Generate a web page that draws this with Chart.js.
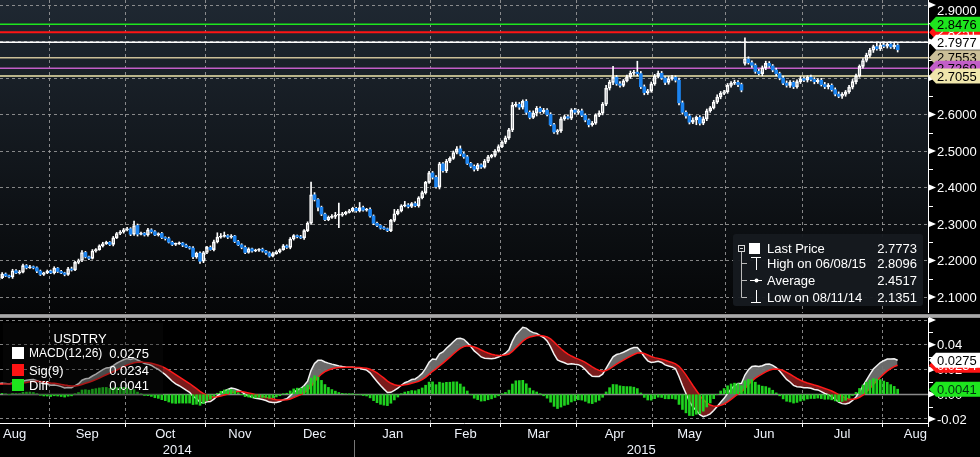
<!DOCTYPE html>
<html>
<head>
<meta charset="utf-8">
<script src="https://cdn.jsdelivr.net/npm/chart.js@4.4.1/dist/chart.umd.min.js"></script>
<style>
  html, body { margin: 0; padding: 0; background: #000; }
  #wrap { position: relative; width: 980px; height: 457px; overflow: hidden; background: #000; }
  #price { position: absolute; left: 0; top: 0; }
  #macd { position: absolute; left: 0; top: 313px; }
</style>
</head>
<body>
<div id="wrap">
  <canvas id="price" width="980" height="313"></canvas>
  <canvas id="macd" width="980" height="144"></canvas>
</div>
<script>
// USDTRY daily closes, one array per month (Aug 11 2014 .. Aug 7 2015)
var aug14 = [2.153, 2.163, 2.158, 2.155, 2.172, 2.166, 2.168, 2.186, 2.180, 2.183, 2.180, 2.171, 2.162, 2.166, 2.171];
var sep14 = [2.166, 2.179, 2.170, 2.166, 2.162, 2.177, 2.174, 2.195, 2.200, 2.222, 2.210, 2.206, 2.226, 2.230, 2.240, 2.246, 2.250, 2.244, 2.262, 2.274, 2.278, 2.284];
var oct14 = [2.287, 2.272, 2.296, 2.272, 2.275, 2.270, 2.284, 2.279, 2.270, 2.274, 2.263, 2.260, 2.250, 2.244, 2.246, 2.248, 2.242, 2.237, 2.234, 2.210, 2.220, 2.198, 2.222];
var nov14 = [2.236, 2.230, 2.251, 2.264, 2.266, 2.268, 2.264, 2.267, 2.252, 2.243, 2.236, 2.222, 2.232, 2.226, 2.228, 2.231, 2.226, 2.221, 2.212, 2.219];
var dec14 = [2.224, 2.230, 2.240, 2.236, 2.259, 2.268, 2.265, 2.262, 2.282, 2.302, 2.380, 2.367, 2.346, 2.327, 2.312, 2.318, 2.321, 2.324, 2.324, 2.328, 2.332, 2.336, 2.343];
var jan15 = [2.336, 2.345, 2.338, 2.340, 2.322, 2.302, 2.296, 2.289, 2.287, 2.282, 2.310, 2.328, 2.336, 2.350, 2.352, 2.348, 2.356, 2.350, 2.372, 2.386, 2.414, 2.440];
var feb15 = [2.428, 2.402, 2.465, 2.446, 2.472, 2.480, 2.496, 2.506, 2.492, 2.484, 2.466, 2.458, 2.450, 2.462, 2.456, 2.472, 2.484, 2.488, 2.500, 2.512];
var mar15 = [2.524, 2.536, 2.558, 2.625, 2.628, 2.620, 2.636, 2.606, 2.592, 2.604, 2.617, 2.608, 2.612, 2.600, 2.572, 2.552, 2.556, 2.588, 2.594, 2.590, 2.612, 2.606];
var apr15 = [2.610, 2.598, 2.585, 2.572, 2.576, 2.598, 2.604, 2.628, 2.672, 2.688, 2.702, 2.684, 2.680, 2.692, 2.703, 2.713, 2.716, 2.712, 2.676, 2.660, 2.665, 2.684];
var may15 = [2.705, 2.713, 2.700, 2.688, 2.698, 2.702, 2.694, 2.632, 2.606, 2.596, 2.579, 2.585, 2.592, 2.576, 2.588, 2.610, 2.618, 2.634, 2.648, 2.658, 2.662];
var jun15 = [2.680, 2.686, 2.688, 2.682, 2.667, 2.752, 2.742, 2.735, 2.718, 2.712, 2.728, 2.740, 2.733, 2.722, 2.712, 2.700, 2.686, 2.680, 2.688, 2.676, 2.690, 2.698];
var jul15 = [2.694, 2.702, 2.696, 2.690, 2.694, 2.682, 2.676, 2.680, 2.668, 2.656, 2.650, 2.655, 2.662, 2.675, 2.690, 2.706, 2.732, 2.748, 2.762, 2.776, 2.786, 2.780, 2.790];
var aug15 = [2.787, 2.793, 2.785, 2.790, 2.7773];

var firstOpen = 2.147;
var gapOpens = { 215: 2.740 };   // Jun 8 2015, gap after the election

// wick lengths above / below the body, in 0.001
var wickUp = [
  3,4,3,2,4,3,5,4,3,4,2,3,3,2,3,
  3,4,2,3,2,4,5,3,4,5,3,2,4,3,3,4,3,2,4,3,4,4,
  4,3,12,4,3,2,4,3,3,2,3,2,4,3,2,3,2,3,2,4,3,4,3,
  3,4,5,12,8,10,3,4,2,3,3,4,3,2,3,2,3,2,3,4,
  3,2,4,3,4,3,2,4,3,4,35,6,3,3,3,4,5,8,33,4,3,4,3,
  3,14,4,3,4,3,3,2,4,2,3,12,4,3,10,4,3,5,3,4,3,4,
  4,5,4,3,5,4,4,6,8,5,4,3,4,4,3,5,4,3,4,5,
  4,5,4,8,6,5,4,5,4,6,5,4,5,4,5,4,3,5,4,5,4,5,
  4,5,4,3,5,4,6,5,8,6,30,5,6,4,5,6,5,30,6,5,4,5,
  5,6,5,4,6,5,4,6,5,4,5,6,4,5,6,5,4,5,6,5,4,
  5,4,6,5,4,58,6,5,4,6,5,6,5,4,5,4,5,6,5,4,5,6,
  5,4,6,5,4,5,6,5,4,5,6,5,4,5,6,5,4,5,6,5,4,10,5,
  5,4,6,5,4
];
var wickDn = [
  11,3,2,3,4,2,3,2,3,2,3,4,3,3,2,
  2,3,3,2,4,3,3,2,4,3,3,4,2,3,2,3,2,3,4,2,3,3,
  3,4,3,5,2,3,3,4,2,3,3,4,2,3,3,2,4,2,3,5,4,6,4,
  3,2,4,3,3,2,4,3,3,2,4,3,2,3,2,3,3,4,3,2,
  2,3,2,3,4,3,3,2,4,3,3,4,10,4,3,3,3,6,34,3,3,2,3,
  4,3,3,3,3,4,3,3,2,3,3,4,3,3,3,4,3,3,4,3,4,3,
  5,4,6,4,5,4,3,4,5,4,3,4,5,4,4,3,4,3,4,3,
  3,4,4,5,4,6,5,6,4,3,8,4,5,4,3,4,6,5,4,3,4,5,
  5,4,5,6,4,3,4,5,4,5,6,4,5,4,3,4,5,6,5,6,5,4,
  4,5,4,6,5,4,5,6,5,6,5,4,13,5,4,5,4,3,4,5,4,
  4,5,4,6,5,5,4,6,5,4,6,5,4,5,6,5,4,5,6,5,4,5,
  4,5,4,6,5,4,5,6,4,5,4,6,5,4,5,6,4,5,4,5,6,4,5,
  4,5,4,5,6
];

// first trading-day index of each month (Aug 2014 .. Sep 2015)
var monthStarts = [-6, 15, 37, 60, 80, 103, 125, 145, 167, 189, 210, 232, 255, 276];
var monthNames = ['Aug', 'Sep', 'Oct', 'Nov', 'Dec', 'Jan', 'Feb', 'Mar', 'Apr', 'May', 'Jun', 'Jul', 'Aug'];
var yearLabels = ['2014', '2015'];
var yearStart = 103;

var levelValues = [2.8476, 2.8251, 2.7977, 2.7553, 2.7269, 2.7055];
var levelColors = ['#1ee61e', '#ff1414', '#ffffff', '#cbbf98', '#c25ec8', '#efe6ac'];
var levelTextColors = ['#000', '#fff', '#000', '#000', '#000', '#000'];
var levelTagOrder = [1, 0, 2, 3, 4, 5];

var statLabels = ['Last Price', 'High on 06/08/15', 'Average', 'Low on 08/11/14'];
var statValues = ['2.7773', '2.8096', '2.4517', '2.1351'];

var macdLabels = ['MACD(12,26)', 'Sig(9)', 'Diff'];
var macdLast = [0.0275, 0.0234, 0.0041];
var emaSeed = { fast: 2.150, slow: 2.141, signal: 0.008 };

var FONT = '13px "Liberation Sans", Arial, sans-serif';
var SMALL = '12px "Liberation Sans", Arial, sans-serif';
var GRID = 'rgba(165,165,165,0.8)';
var UP = '#ffffff';
var DOWN = '#1c84f0';
var X_MIN = 0.38, X_MAX = 267.74;

var closes = [].concat(aug14, sep14, oct14, nov14, dec14, jan15, feb15, mar15, apr15, may15, jun15, jul15, aug15);
var opens = closes.map(function (c, i) {
    if (gapOpens[i] !== undefined) return gapOpens[i];
    return i === 0 ? firstOpen : closes[i - 1];
});
var isUp = closes.map(function (c, i) { return c >= opens[i]; });

var bodies = closes.map(function (c, i) { return { x: i, y: [opens[i], c] }; });
var upperWicks = closes.map(function (c, i) {
    var top = Math.max(opens[i], c);
    return { x: i, y: [top, top + wickUp[i] / 1000] };
});
var lowerWicks = closes.map(function (c, i) {
    var bot = Math.min(opens[i], c);
    return { x: i, y: [bot - wickDn[i] / 1000, bot] };
});

function ema(series, n, seed) {
    var k = 2 / (n + 1), prev = seed;
    return series.map(function (v) { prev = prev + k * (v - prev); return prev; });
}
var ema12 = ema(closes, 12, emaSeed.fast);
var ema26 = ema(closes, 26, emaSeed.slow);
var macd = ema12.map(function (v, i) { return v - ema26[i]; });
var signal = ema(macd, 9, emaSeed.signal);
var diff = macd.map(function (v, i) { return v - signal[i]; });

var boundaryTicks = function (scale) {
    scale.ticks = monthStarts.slice(1, -1).map(function (s) { return { value: s - 0.5 }; });
};

function drawTag(ctx, x, y, text, fill, color) {
    ctx.beginPath();
    ctx.moveTo(x, y);
    ctx.lineTo(x + 7, y - 7.5);
    ctx.lineTo(980, y - 7.5);
    ctx.lineTo(980, y + 7.5);
    ctx.lineTo(x + 7, y + 7.5);
    ctx.closePath();
    ctx.fillStyle = fill;
    ctx.fill();
    ctx.fillStyle = color;
    ctx.textAlign = 'left';
    ctx.textBaseline = 'middle';
    ctx.fillText(text, x + 8, y + 1);
}

function drawAxisTicks(ctx, x, majors, minors) {
    ctx.fillStyle = '#fff';
    ctx.strokeStyle = '#fff';
    ctx.lineWidth = 1;
    majors.forEach(function (py) {
        ctx.beginPath();
        ctx.moveTo(x + 1, py - 3);
        ctx.lineTo(x + 8, py);
        ctx.lineTo(x + 1, py + 3);
        ctx.closePath();
        ctx.fill();
    });
    minors.forEach(function (py) {
        ctx.beginPath();
        ctx.moveTo(x + 1, Math.round(py) + 0.5);
        ctx.lineTo(x + 5, Math.round(py) + 0.5);
        ctx.stroke();
    });
}

var pricePanel = {
    id: 'pricePanel',
    beforeDraw: function (chart) {
        var a = chart.chartArea, ctx = chart.ctx;
        var g = ctx.createLinearGradient(0, a.top, 0, a.bottom);
        g.addColorStop(0, '#1f2832');
        g.addColorStop(1, '#050607');
        ctx.fillStyle = g;
        ctx.fillRect(a.left, a.top, a.right - a.left, a.bottom - a.top);
    },
    beforeDatasetsDraw: function (chart) {
        var a = chart.chartArea, ctx = chart.ctx, y = chart.scales.y;
        ctx.save();
        levelValues.forEach(function (v, k) {
            var py = y.getPixelForValue(v);
            ctx.strokeStyle = levelColors[k];
            ctx.lineWidth = k === 1 ? 2 : 1.5;
            ctx.beginPath();
            ctx.moveTo(a.left, py);
            ctx.lineTo(a.right, py);
            ctx.stroke();
        });
        ctx.restore();
    },
    afterDraw: function (chart) {
        var a = chart.chartArea, ctx = chart.ctx, y = chart.scales.y;
        ctx.save();
        ctx.strokeStyle = '#fff';
        ctx.lineWidth = 1;
        ctx.beginPath();
        ctx.moveTo(a.right + 0.5, 0);
        ctx.lineTo(a.right + 0.5, chart.height);
        ctx.stroke();

        var majors = [], minors = [];
        y.ticks.forEach(function (t) {
            majors.push(y.getPixelForValue(t.value));
            var pm = y.getPixelForValue(t.value + 0.05);
            if (pm > a.top + 2) minors.push(pm);
        });
        drawAxisTicks(ctx, a.right, majors, minors);

        ctx.font = FONT;
        ctx.fillStyle = '#fff';
        ctx.textAlign = 'left';
        ctx.textBaseline = 'middle';
        y.ticks.forEach(function (t) {
            var py = Math.max(y.getPixelForValue(t.value), a.top + 10);
            ctx.fillText(t.value.toFixed(4), a.right + 9, py + 1);
        });

        levelTagOrder.forEach(function (k) {
            drawTag(ctx, a.right + 1, y.getPixelForValue(levelValues[k]), levelValues[k].toFixed(4), levelColors[k], levelTextColors[k]);
        });

        // statistics box
        var bx = 733, by = 234, bw = 190, bh = 72;
        ctx.fillStyle = 'rgba(22,26,31,0.96)';
        ctx.beginPath();
        ctx.roundRect(bx, by, bw, bh, 3);
        ctx.fill();
        var rows = [248, 263, 280, 297];
        ctx.strokeStyle = '#d8d8d8';
        ctx.lineWidth = 1;
        ctx.strokeRect(738.5, 245.5, 6, 6);
        ctx.beginPath(); ctx.moveTo(740, 248.5); ctx.lineTo(743, 248.5); ctx.stroke();
        ctx.fillStyle = '#fff';
        ctx.fillRect(749, 243, 11, 11);
        ctx.strokeStyle = '#bbb';
        ctx.beginPath();
        ctx.moveTo(741.5, 252); ctx.lineTo(741.5, 297.5); ctx.stroke();
        [263, 280, 297].forEach(function (ry) {
            ctx.beginPath(); ctx.moveTo(741.5, ry + 0.5); ctx.lineTo(747, ry + 0.5); ctx.stroke();
        });
        ctx.strokeStyle = '#fff';
        ctx.beginPath();
        ctx.moveTo(751, 257.5); ctx.lineTo(761, 257.5);
        ctx.moveTo(756.5, 257.5); ctx.lineTo(756.5, 270);
        ctx.moveTo(750, 280.5); ctx.lineTo(762, 280.5);
        ctx.moveTo(756.5, 290); ctx.lineTo(756.5, 302.5);
        ctx.moveTo(751, 302.5); ctx.lineTo(761, 302.5);
        ctx.stroke();
        ctx.beginPath(); ctx.arc(756.5, 280.5, 2, 0, Math.PI * 2); ctx.fill();

        ctx.font = FONT;
        ctx.textBaseline = 'middle';
        rows.forEach(function (ry, k) {
            ctx.fillStyle = '#fff';
            ctx.textAlign = 'left';
            ctx.fillText(statLabels[k], 767, ry + 1);
            ctx.textAlign = 'right';
            ctx.fillText(statValues[k], 917, ry + 1);
        });
        ctx.restore();
    }
};

var macdPanel = {
    id: 'macdPanel',
    beforeDraw: function (chart) {
        var ctx = chart.ctx;
        ctx.fillStyle = '#8f8f8f';
        ctx.fillRect(0, 1, chart.width, 4);
        ctx.fillStyle = '#a8a8a8';
        ctx.fillRect(0, 2, chart.width, 2);
    },
    beforeDatasetsDraw: function (chart) {
        var a = chart.chartArea, ctx = chart.ctx, y = chart.scales.y;
        var py = Math.round(y.getPixelForValue(0)) + 0.5;
        ctx.save();
        ctx.strokeStyle = '#8a8a8a';
        ctx.lineWidth = 1.5;
        ctx.beginPath(); ctx.moveTo(a.left, py); ctx.lineTo(a.right, py); ctx.stroke();
        ctx.restore();
    },
    afterDraw: function (chart) {
        var a = chart.chartArea, ctx = chart.ctx, y = chart.scales.y, x = chart.scales.x;
        ctx.save();
        ctx.strokeStyle = '#fff';
        ctx.lineWidth = 1;
        ctx.beginPath();
        ctx.moveTo(a.right + 0.5, 5);
        ctx.lineTo(a.right + 0.5, a.bottom + 4);
        ctx.stroke();

        var majors = [], minors = [];
        y.ticks.forEach(function (t) {
            majors.push(y.getPixelForValue(t.value));
            var pm = y.getPixelForValue(t.value + 0.01);
            if (pm > a.top + 2) minors.push(pm);
        });
        drawAxisTicks(ctx, a.right, majors, minors);

        ctx.font = FONT;
        ctx.fillStyle = '#fff';
        ctx.textAlign = 'left';
        ctx.textBaseline = 'middle';
        y.ticks.forEach(function (t) {
            var py = y.getPixelForValue(t.value);
            if (py < a.top + 8) return;
            var txt = Math.abs(t.value) < 1e-9 ? '0.00' : t.value.toFixed(2);
            ctx.fillText(txt, a.right + 9, py + 1);
        });

        drawTag(ctx, a.right + 1, y.getPixelForValue(macdLast[1]), macdLast[1].toFixed(4), '#ff1414', '#fff');
        drawTag(ctx, a.right + 1, y.getPixelForValue(macdLast[0]), macdLast[0].toFixed(4), '#ffffff', '#000');
        drawTag(ctx, a.right + 1, y.getPixelForValue(macdLast[2]), macdLast[2].toFixed(4), '#1ee61e', '#031');

        // legend
        ctx.fillStyle = 'rgba(14,14,14,0.35)';
        ctx.fillRect(3, 10, 160, 72);
        ctx.font = FONT;
        ctx.fillStyle = '#fff';
        ctx.textAlign = 'center';
        ctx.fillText('USDTRY', 80, 26);
        var swatch = ['#ffffff', '#ff1414', '#1ee61e'];
        var rowY = [40, 57, 72];
        rowY.forEach(function (ry, k) {
            ctx.fillStyle = swatch[k];
            ctx.fillRect(12, ry - 6, 12, 12);
            ctx.fillStyle = '#fff';
            ctx.font = k === 0 ? SMALL : FONT;
            ctx.textAlign = 'left';
            ctx.fillText(macdLabels[k], 29, ry + 1);
            ctx.font = FONT;
            ctx.textAlign = 'right';
            ctx.fillText(macdLast[k].toFixed(4), 149, ry + 1);
        });

        // month and year labels
        ctx.font = FONT;
        ctx.fillStyle = '#eef2fa';
        ctx.textAlign = 'center';
        monthNames.forEach(function (name, k) {
            var mid = (monthStarts[k] + monthStarts[k + 1] - 1) / 2;
            var px = x.getPixelForValue(mid);
            var w = ctx.measureText(name).width;
            px = Math.max(a.left + w / 2 + 3, Math.min(a.right - w / 2 - 1, px));
            ctx.fillText(name, px, a.bottom + 11);
        });
        var split = x.getPixelForValue(yearStart - 0.5);
        ctx.fillText(yearLabels[0], (a.left + split) / 2, a.bottom + 27);
        ctx.fillText(yearLabels[1], (split + a.right) / 2, a.bottom + 27);
        ctx.strokeStyle = '#777';
        ctx.beginPath();
        ctx.moveTo(Math.round(split) + 0.5, a.bottom + 17);
        ctx.lineTo(Math.round(split) + 0.5, chart.height);
        ctx.stroke();
        ctx.restore();
    }
};

var priceChart = new Chart(document.getElementById('price'), {
    data: {
        datasets: [
            {
                type: 'bar',
                data: lowerWicks,
                backgroundColor: UP,
                barThickness: 1,
                grouped: false,
                order: 3
            },
            {
                type: 'bar',
                data: upperWicks,
                backgroundColor: UP,
                barThickness: 1,
                grouped: false,
                order: 2
            },
            {
                type: 'bar',
                data: bodies,
                backgroundColor: isUp.map(function (u) { return u ? 'rgba(0,0,0,0)' : DOWN; }),
                borderColor: isUp.map(function (u) { return u ? UP : DOWN; }),
                borderWidth: isUp.map(function (u) { return u ? 1 : 0; }),
                borderSkipped: false,
                barThickness: 3,
                minBarLength: 1,
                grouped: false,
                order: 1
            }
        ]
    },
    options: {
        responsive: false,
        animation: false,
        events: [],
        layout: { padding: 0 },
        plugins: { legend: { display: false }, tooltip: { enabled: false } },
        scales: {
            x: {
                type: 'linear',
                offset: false,
                min: X_MIN,
                max: X_MAX,
                afterBuildTicks: boundaryTicks,
                afterFit: function (s) { s.height = 0; },
                ticks: { display: false },
                grid: { color: GRID, drawTicks: false, offset: false },
                border: { display: false, dash: [3, 3] }
            },
            y: {
                type: 'linear',
                position: 'right',
                min: 2.0562,
                max: 2.9137,
                afterFit: function (s) { s.width = 52; },
                ticks: { display: false, stepSize: 0.1, includeBounds: false },
                grid: { color: GRID, drawTicks: false },
                border: { display: false, dash: [3, 3] }
            }
        }
    },
    plugins: [pricePanel]
});

var macdChart = new Chart(document.getElementById('macd'), {
    data: {
        datasets: [
            {
                type: 'bar',
                data: diff.map(function (v, i) { return { x: i, y: v }; }),
                backgroundColor: '#1fd21f',
                barThickness: 2,
                grouped: false,
                order: 1
            },
            {
                type: 'line',
                data: macd.map(function (v, i) { return { x: i, y: v }; }),
                borderColor: '#f2f2f2',
                borderWidth: 1.5,
                pointRadius: 0,
                fill: { target: 2, above: 'rgba(112,112,112,0.95)', below: 'rgba(128,28,28,0.95)' },
                order: 3
            },
            {
                type: 'line',
                data: signal.map(function (v, i) { return { x: i, y: v }; }),
                borderColor: '#ff1a1a',
                borderWidth: 1.5,
                pointRadius: 0,
                fill: false,
                order: 2
            }
        ]
    },
    options: {
        responsive: false,
        animation: false,
        events: [],
        layout: { padding: { top: 5 } },
        plugins: { legend: { display: false }, tooltip: { enabled: false } },
        scales: {
            x: {
                type: 'linear',
                offset: false,
                min: X_MIN,
                max: X_MAX,
                afterBuildTicks: boundaryTicks,
                afterFit: function (s) { s.height = 34; },
                ticks: { display: false },
                grid: { color: GRID, drawTicks: true, tickLength: 4, tickColor: '#fff', offset: false },
                border: { display: true, color: '#fff', width: 1, dash: [3, 3] }
            },
            y: {
                type: 'linear',
                position: 'right',
                min: -0.0233,
                max: 0.0617,
                afterFit: function (s) { s.width = 52; },
                ticks: { display: false, stepSize: 0.02, includeBounds: false },
                grid: { color: GRID, drawTicks: false },
                border: { display: false, dash: [3, 3] }
            }
        }
    },
    plugins: [macdPanel]
});
</script>
</body>
</html>
